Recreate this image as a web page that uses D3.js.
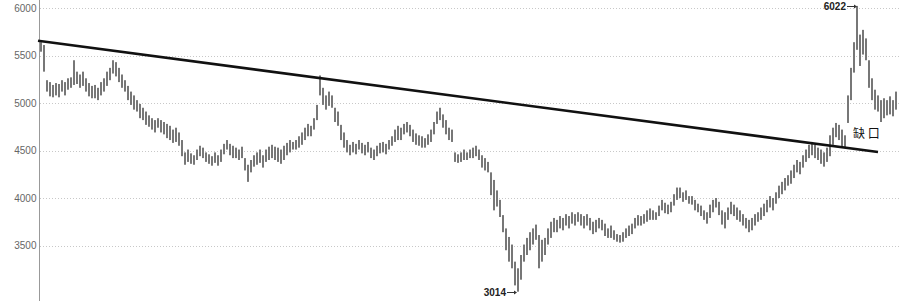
<!DOCTYPE html>
<html>
<head>
<meta charset="utf-8">
<script src="https://cdn.jsdelivr.net/npm/d3@7"></script>
<style>
  body { margin: 0; background: #fff; }
  svg { display: block; font-family: "Liberation Sans", Arial, sans-serif; }
</style>
</head>
<body>
<div id="chart"></div>
<script>
// bar highs / lows (index points)
const highs = [
  5640,5610,5240,5220,5190,5210,5200,5240,5220,5260,5270,5450,5330,5300,5330,5260,5210,5180,5190,5160,
  5220,5260,5330,5370,5450,5430,5370,5300,5240,5180,5120,5080,5030,4990,4950,4910,4870,4840,4820,4840,
  4820,4800,4780,4760,4720,4740,4690,4610,4480,4510,4470,4450,4510,4550,4530,4480,4460,4440,4480,4450,
  4510,4570,4610,4570,4550,4530,4510,4540,4420,4350,4400,4450,4480,4510,4450,4510,4540,4560,4540,4530,
  4510,4550,4580,4610,4590,4610,4650,4690,4740,4780,4760,4840,4980,5290,5160,5080,5120,5080,4950,4910,
  4770,4690,4610,4560,4590,4570,4610,4580,4560,4590,4530,4510,4550,4580,4590,4570,4610,4650,4720,4760,
  4740,4780,4800,4770,4720,4680,4660,4650,4630,4670,4720,4800,4910,4950,4880,4820,4740,4720,4480,4460,
  4480,4510,4480,4510,4530,4550,4510,4450,4420,4380,4270,4190,4080,3980,3820,3680,3590,3510,3330,3260,
  3400,3510,3580,3640,3680,3720,3610,3560,3580,3680,3750,3790,3770,3810,3790,3830,3810,3850,3830,3850,
  3830,3810,3830,3790,3750,3770,3790,3770,3730,3680,3710,3660,3620,3610,3640,3680,3710,3730,3790,3820,
  3810,3830,3870,3890,3870,3850,3920,3980,3950,3930,3960,4040,4110,4110,4060,4080,4020,4020,3980,3940,
  3920,3870,3850,3930,3980,4000,3960,3870,3850,3900,3960,3930,3900,3870,3830,3790,3770,3790,3830,3850,
  3900,3940,3980,4020,4000,4060,4130,4170,4210,4240,4290,4350,4400,4380,4450,4510,4560,4590,4560,4530,
  4510,4480,4530,4660,4740,4790,4770,4720,4660,5080,5370,5640,6022,5720,5770,5680,5450,5260,5140,5080,
  5030,5050,5030,5070,5030,5120
];
const lows = [
  5540,5330,5120,5070,5060,5080,5060,5120,5080,5140,5160,5190,5200,5160,5180,5120,5070,5050,5050,5030,
  5080,5120,5180,5240,5310,5280,5220,5160,5120,5030,4980,4930,4910,4840,4820,4770,4750,4720,4690,4740,
  4690,4670,4630,4610,4580,4590,4550,4440,4350,4380,4360,4350,4400,4440,4420,4380,4360,4340,4370,4340,
  4380,4460,4510,4450,4420,4420,4400,4420,4290,4170,4270,4330,4350,4370,4320,4380,4400,4420,4400,4380,
  4360,4400,4450,4480,4510,4510,4530,4560,4610,4650,4650,4720,4820,5080,4980,4930,4970,4950,4800,4760,
  4610,4530,4480,4450,4480,4460,4510,4470,4450,4480,4420,4400,4440,4470,4480,4460,4510,4550,4590,4610,
  4610,4670,4690,4650,4590,4560,4550,4530,4530,4560,4590,4670,4780,4820,4740,4670,4610,4590,4380,4370,
  4380,4400,4400,4420,4420,4440,4400,4320,4290,4270,4030,3870,3910,3800,3640,3450,3330,3260,3080,3014,
  3140,3330,3400,3450,3510,3560,3260,3330,3400,3510,3580,3640,3640,3680,3660,3710,3680,3730,3710,3750,
  3710,3680,3710,3660,3620,3640,3680,3660,3600,3580,3580,3560,3540,3530,3540,3580,3600,3620,3680,3710,
  3710,3730,3750,3770,3770,3770,3810,3870,3840,3830,3850,3920,3980,4000,3960,3980,3940,3930,3870,3850,
  3810,3770,3730,3790,3850,3900,3820,3720,3680,3770,3830,3810,3770,3750,3710,3680,3640,3660,3710,3750,
  3770,3810,3850,3900,3870,3940,4000,4040,4080,4130,4150,4210,4270,4250,4320,4380,4420,4450,4420,4400,
  4360,4330,4380,4440,4560,4640,4610,4540,4530,4790,5030,5320,5560,5390,5510,5450,5160,5030,4930,4910,
  4800,4840,4870,4880,4860,4930
];
const yTicks = [3500, 4000, 4500, 5000, 5500, 6000];
// resistance line: bar index and level at both ends
const trendIdx = [-1, 279];
const trendVal = [5655, 4485];
const peakIdx = 272, peakVal = 6022;
const lowIdx = 159, lowVal = 3014;
const gapLabel = "缺 口";

const width = 900, height = 301;
const margin = {top: 0, right: 4, bottom: 0, left: 39};

const svg = d3.select("#chart").append("svg")
    .attr("width", width)
    .attr("height", height);

const x = d3.scaleLinear()
    .domain([0, highs.length - 1])
    .range([41, 896]);

const y = d3.scaleLinear()
    .domain([4000, 6000])
    .range([198, 8]);

// grid lines
svg.append("g")
    .selectAll("line")
    .data(yTicks)
    .enter()
    .append("line")
    .attr("x1", margin.left + 1)
    .attr("x2", width)
    .attr("y1", d => Math.round(y(d)) + 0.5)
    .attr("y2", d => Math.round(y(d)) + 0.5)
    .attr("stroke", "#c8c8c8")
    .attr("stroke-dasharray", "1,2");

// y axis
const yAxis = d3.axisLeft(y).tickValues(yTicks).tickFormat(d3.format("d")).tickSize(0).tickPadding(4);
const ag = svg.append("g")
    .attr("transform", "translate(" + (margin.left + 0.5) + ",0)")
    .call(yAxis);
ag.select(".domain").remove();
ag.selectAll("text")
    .attr("fill", "#666")
    .style("font-size", "10px")
    .attr("x", -3);
svg.append("line")
    .attr("x1", margin.left + 0.5).attr("x2", margin.left + 0.5)
    .attr("y1", 0).attr("y2", height)
    .attr("stroke", "#999");

// bars
svg.append("g")
    .selectAll("rect")
    .data(highs.map((h, i) => ({i: i, h: h, l: lows[i]})))
    .enter()
    .append("rect")
    .attr("x", d => Math.round(x(d.i)) - 1)
    .attr("width", 2)
    .attr("y", d => y(d.h))
    .attr("height", d => Math.max(1, y(d.l) - y(d.h)))
    .attr("fill", "#777");

// trend line
svg.append("line")
    .attr("x1", x(trendIdx[0])).attr("y1", y(trendVal[0]))
    .attr("x2", x(trendIdx[1])).attr("y2", y(trendVal[1]))
    .attr("stroke", "#111")
    .attr("stroke-width", 2.6);

// annotations
function arrowLabel(txt, xe, ye) {
    svg.append("text")
        .attr("x", xe - 11).attr("y", ye + 3.5)
        .attr("text-anchor", "end")
        .style("font-size", "10px")
        .style("font-weight", "bold")
        .attr("fill", "#222")
        .text(txt);
    svg.append("line")
        .attr("x1", xe - 10).attr("x2", xe - 1)
        .attr("y1", ye + 0.5).attr("y2", ye + 0.5)
        .attr("stroke", "#333");
    svg.append("path")
        .attr("d", `M${xe},${ye + 0.5}L${xe - 3},${ye - 1.5}L${xe - 3},${ye + 2.5}Z`)
        .attr("fill", "#333");
}
arrowLabel(String(peakVal), Math.round(x(peakIdx)), Math.round(y(peakVal)));
arrowLabel(String(lowVal), Math.round(x(lowIdx)) - 1, Math.round(y(lowVal)));

svg.append("text")
    .attr("x", 853).attr("y", 138)
    .style("font-family", "'Noto Sans CJK SC', sans-serif")
    .style("font-size", "12px")
    .attr("fill", "#111")
    .text(gapLabel);
</script>
</body>
</html>
